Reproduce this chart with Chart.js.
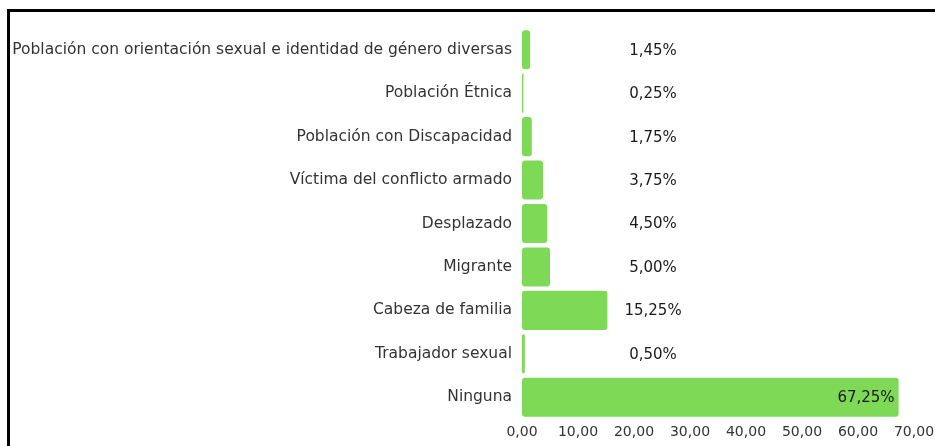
<!DOCTYPE html>
<html>
<head>
<meta charset="utf-8">
<script src="https://cdn.jsdelivr.net/npm/chart.js@4/dist/chart.umd.min.js"></script>
<style>
  html, body { margin:0; padding:0; background:#fff; width:935px; height:446px; overflow:hidden; }
  #frame { position:absolute; left:7px; top:9px; width:940px; height:450px; border-top:3px solid #000; border-left:3px solid #000; }
  #wrap { position:absolute; left:0; top:0; width:935px; height:446px; }
</style>
</head>
<body>
<div id="frame"></div>
<div id="wrap"><canvas id="c"></canvas></div>
<script>
const categories = [
  "Población con orientación sexual e identidad de género diversas",
  "Población Étnica",
  "Población con Discapacidad",
  "Víctima del conflicto armado",
  "Desplazado",
  "Migrante",
  "Cabeza de familia",
  "Trabajador sexual",
  "Ninguna"
];
const values = [1.45, 0.25, 1.75, 3.75, 4.50, 5.00, 15.25, 0.50, 67.25];
const xTicks = [0, 10, 20, 30, 40, 50, 60, 70];

const FONT = "'DejaVu Sans', sans-serif";
const fmt = v => v.toFixed(2).replace('.', ',');

const labelPlugin = {
  id: 'valLabels',
  afterDatasetsDraw(chart) {
    const ctx = chart.ctx;
    const meta = chart.getDatasetMeta(0);
    const xs = chart.scales.x;
    const fixedX = xs.getPixelForValue(23.4);
    ctx.save();
    ctx.font = "15px " + FONT;
    ctx.fillStyle = '#1a1a1a';
    ctx.textBaseline = 'middle';
    meta.data.forEach((bar, i) => {
      const txt = fmt(values[i]) + '%';
      if (bar.x > fixedX + 60) {
        ctx.textAlign = 'right';
        ctx.fillText(txt, bar.x - 4, bar.y + 1);
      } else {
        ctx.textAlign = 'center';
        ctx.fillText(txt, fixedX, bar.y + 1);
      }
    });
    ctx.restore();
  }
};

new Chart(document.getElementById('c'), {
  type: 'bar',
  data: {
    labels: categories,
    datasets: [{
      data: values,
      backgroundColor: '#7ed957',
      borderRadius: 3,
      borderSkipped: false,
      barPercentage: 0.9,
      categoryPercentage: 1.0
    }]
  },
  options: {
    indexAxis: 'y',
    responsive: true,
    maintainAspectRatio: false,
    animation: false,
    layout: { padding: { top: 28, right: 21, bottom: 0, left: 0 } },
    plugins: { legend: { display: false }, tooltip: { enabled: false } },
    scales: {
      x: {
        min: 0, max: 70,
        afterBuildTicks(axis) { axis.ticks = xTicks.map(v => ({ value: v })); },
        afterFit(axis) { axis.height = 27; axis.paddingLeft = 0; axis.paddingRight = 0; },
        grid: { display: false, drawTicks: false },
        border: { display: false },
        ticks: {
          font: { family: FONT, size: 14 },
          color: '#333',
          padding: 5,
          maxRotation: 0,
          callback: v => fmt(v)
        }
      },
      y: {
        grid: { display: false, drawTicks: false },
        border: { display: false },
        afterFit(axis) { axis.width = 522; axis.paddingTop = 0; axis.paddingBottom = 0; },
        ticks: {
          font: { family: FONT, size: 15.5 },
          color: '#333',
          padding: 10,
          autoSkip: false
        }
      }
    }
  },
  plugins: [labelPlugin]
});
</script>
</body>
</html>
